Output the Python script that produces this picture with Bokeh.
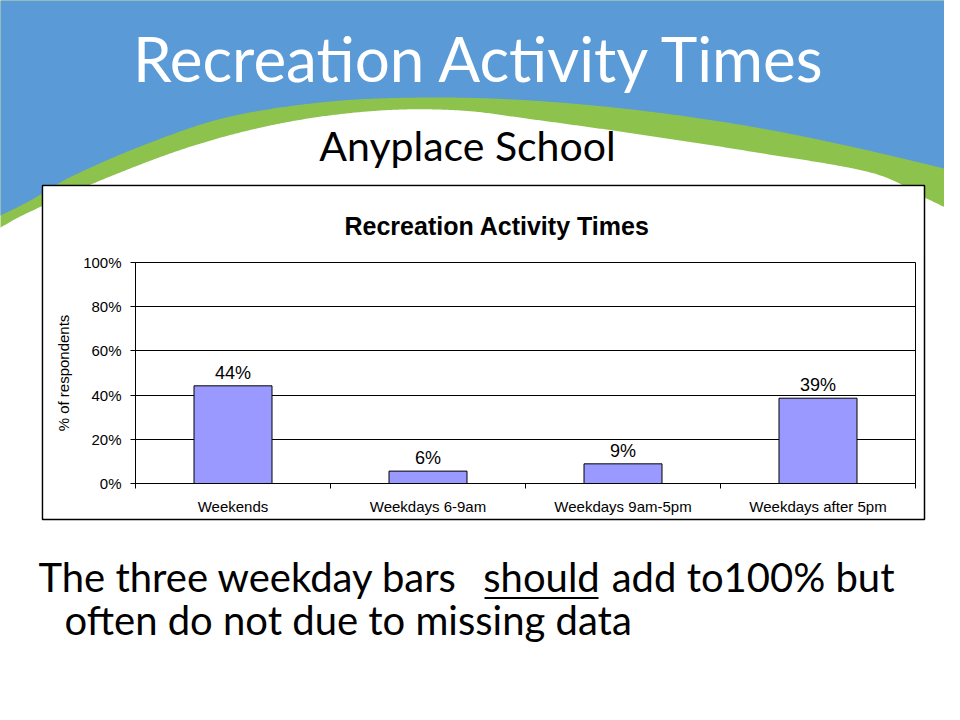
import numpy as np
from bokeh.plotting import figure
from bokeh.models import (Range1d, FixedTicker, NumeralTickFormatter, ColumnDataSource,
                          LabelSet, Label, GridBox)
from bokeh.core.properties import value
from bokeh.embed import file_html
from bokeh.resources import INLINE

# ---------------- data ----------------
slide_title = "Recreation Activity Times"
slide_subtitle = "Anyplace School"
chart_title = "Recreation Activity Times"
categories = ["Weekends", "Weekdays 6-9am", "Weekdays 9am-5pm", "Weekdays after 5pm"]
shares = [0.442, 0.056, 0.089, 0.386]
y_ticks = [0.0, 0.2, 0.4, 0.6, 0.8, 1.0]
y_axis_title = "% of respondents"
note_parts = ["The three weekday bars", "should", "add to100% but"]
note_line2 = "often do not due to missing data"

# ---------------- styling constants ----------------
N = len(categories)
SLIDE_FONT = "Lato"
CHART_FONT = "Liberation Sans"
BLUE = "#5A9BD7"
GREEN = "#8DC24C"
BAR = "#9999FF"

# page regions (pixels)
PW, PH = 944, 704
BL, BR, BT, BB = 42, 924, 185, 519          # chart box border lines
CL, CR, CT, CB = 43, 923, 186, 518          # chart canvas inside the border
FL, FR, FT, FB = 135, 915, 262, 483         # plot area


def smooth(pts):
    pts = np.asarray(pts, float)
    P = np.vstack([pts[0] * 2 - pts[1], pts, pts[-1] * 2 - pts[-2]])
    out = []
    t = np.linspace(0, 1, 24, endpoint=False)[:, None]
    for i in range(1, len(P) - 2):
        p0, p1, p2, p3 = P[i - 1], P[i], P[i + 1], P[i + 2]
        seg = 0.5 * ((2 * p1) + (-p0 + p2) * t + (2 * p0 - 5 * p1 + 4 * p2 - p3) * t ** 2
                     + (-p0 + 3 * p1 - 3 * p2 + p3) * t ** 3)
        out.append(seg)
    out.append(P[-2][None, :])
    c = np.vstack(out)
    return lambda xq: np.interp(xq, c[:, 0], c[:, 1])


upper = smooth([(-20, 225), (0, 215), (30, 200), (73, 175), (150, 142), (230, 116),
                (330, 101), (430, 97), (530, 100), (640, 110), (750, 126), (850, 146),
                (960, 172), (980, 178)])
lower = smooth([(-20, 238), (0, 227), (30, 211), (112, 175), (200, 143), (290, 121),
                (380, 110), (460, 110), (533, 119), (640, 134), (750, 151), (870, 172),
                (924, 197), (960, 214), (980, 220)])

# ---------------- slide background figure ----------------
bg = figure(width=PW, height=PH, x_range=Range1d(0, PW), y_range=Range1d(PH, 0),
            output_backend="svg", toolbar_location=None,
            x_axis_location=None, y_axis_location=None, min_border=0,
            outline_line_color=None, background_fill_color="white",
            border_fill_color="white", frame_align=False)
bg.grid.visible = False
xs = np.linspace(-20, 980, 600)
bg.patch(list(xs) + [980, -20], list(lower(xs)) + [-40, -40],
         fill_color=GREEN, line_color=None)
bg.patch(list(xs) + [980, -20], list(upper(xs)) + [-40, -40],
         fill_color=BLUE, line_color=None)
bg.patch([BL, BR, BR, BL], [BT, BT, BB, BB], fill_color="white",
         line_color="black", line_width=1.5)


def text(s, x, baseline, size, color="black", align="center"):
    # Label is anchored on the middle of its text box: shift from the wanted baseline
    bg.add_layout(Label(x=x, y=baseline - 0.39 * size, text=s, text_font=SLIDE_FONT,
                        text_font_size=f"{size}px", text_color=color, text_align=align,
                        text_baseline="middle"))


text(slide_title, 480, 82, 62, color="white")
text(slide_subtitle, 467, 161, 41)
text(note_parts[0], 38, 592, 40, align="left")
text(note_parts[1], 541, 592, 40, align="center")
text(note_parts[2], 894, 592, 40, align="right")
text(note_line2, 64, 635, 40, align="left")
bg.patch([484, 598, 598, 484], [596.5, 596.5, 598.5, 598.5],
         fill_color="black", line_color=None)      # underline of "should"

# ---------------- the chart ----------------
cw, ch = CR - CL, CB - CT
p = figure(width=cw, height=ch, x_range=Range1d(0, N), y_range=Range1d(0, 1),
           output_backend="svg", toolbar_location=None, frame_align=False,
           min_border_left=FL - CL, min_border_right=CR - FR,
           min_border_top=FT - CT, min_border_bottom=CB - FB)
p.background_fill_color = "white"
p.border_fill_color = "white"
p.outline_line_color = "black"
p.outline_line_width = 1

p.title.text = chart_title
p.title.text_font = CHART_FONT
p.title.text_font_size = "25px"
p.title.text_font_style = "bold"
p.title.text_color = "black"
p.title.align = "left"
p.title.offset = 344 - FL
p.title.standoff = 45

xcent = (np.arange(N) + 0.5).tolist()
src = ColumnDataSource(dict(x=xcent, top=shares, label=[f"{v:.0%}" for v in shares]))
p.vbar(x="x", top="top", bottom=0, width=0.4, source=src,
       fill_color=BAR, line_color="black", line_width=1)
p.add_layout(LabelSet(x="x", y="top", text="label", source=src, text_align="center",
                      text_baseline="alphabetic", y_offset=7,
                      text_font=value(CHART_FONT), text_font_size="18px",
                      text_color="black"))

yax = p.yaxis[0]
yax.ticker = FixedTicker(ticks=y_ticks)
yax.formatter = NumeralTickFormatter(format="0%")
yax.axis_label = y_axis_title
yax.axis_label_text_font = CHART_FONT
yax.axis_label_text_font_size = "15px"
yax.axis_label_text_font_style = "normal"
yax.axis_label_text_color = "black"
yax.axis_label_standoff = 8
yax.major_label_text_font = CHART_FONT
yax.major_label_text_font_size = "15px"
yax.major_label_text_color = "black"
yax.major_label_standoff = 9
yax.major_tick_in = 0
yax.major_tick_out = 5
yax.minor_tick_line_color = None
yax.axis_line_color = "black"
yax.major_tick_line_color = "black"

xax = p.xaxis[0]
xax.ticker = FixedTicker(ticks=xcent, minor_ticks=list(range(N + 1)))
xax.major_label_overrides = {c: name for c, name in zip(xcent, categories)}
xax.major_label_text_font = CHART_FONT
xax.major_label_text_font_size = "15px"
xax.major_label_text_color = "black"
xax.major_label_standoff = 9
xax.major_tick_line_color = None
xax.major_tick_in = 0
xax.major_tick_out = 0
xax.minor_tick_in = 0
xax.minor_tick_out = 5
xax.minor_tick_line_color = "black"
xax.axis_line_color = "black"

p.xgrid.grid_line_color = None
p.ygrid.ticker = FixedTicker(ticks=y_ticks)
p.ygrid.grid_line_color = "black"
p.ygrid.grid_line_width = 1

# background spans the whole grid; the chart sits on top in the middle cell
page = GridBox(children=[(bg, 0, 0, 3, 3), (p, 1, 1)],
               rows=[f"{CT}px", f"{ch}px", f"{PH - CB}px"],
               cols=[f"{CL}px", f"{cw}px", f"{PW - CR}px"])
open("out.html", "w").write(file_html(page, INLINE))
